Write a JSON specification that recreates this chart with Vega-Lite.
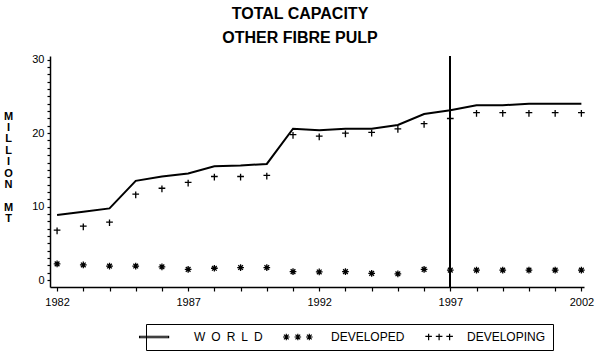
{
  "$schema": "https://vega.github.io/schema/vega-lite/v6.json",
  "width": 534,
  "height": 231,
  "autosize": "none",
  "padding": {"left": 50, "top": 56, "right": 15, "bottom": 66},
  "background": "white",
  "config": {"view": {"stroke": null}, "font": "Liberation Sans"},
  "title": {
    "text": ["TOTAL CAPACITY", "OTHER FIBRE PULP"],
    "fontSize": 16,
    "fontWeight": "bold",
    "lineHeight": 24,
    "anchor": "middle",
    "dx": -17,
    "offset": 8,
    "color": "black",
    "font": "Liberation Sans"
  },
  "data": {
    "values": [
      {"year": 1982, "series": "WORLD", "value": 8.85},
      {"year": 1983, "series": "WORLD", "value": 9.3},
      {"year": 1984, "series": "WORLD", "value": 9.75},
      {"year": 1985, "series": "WORLD", "value": 13.5},
      {"year": 1986, "series": "WORLD", "value": 14.1},
      {"year": 1987, "series": "WORLD", "value": 14.5},
      {"year": 1988, "series": "WORLD", "value": 15.5},
      {"year": 1989, "series": "WORLD", "value": 15.6},
      {"year": 1990, "series": "WORLD", "value": 15.8},
      {"year": 1991, "series": "WORLD", "value": 20.6},
      {"year": 1992, "series": "WORLD", "value": 20.4},
      {"year": 1993, "series": "WORLD", "value": 20.6},
      {"year": 1994, "series": "WORLD", "value": 20.6},
      {"year": 1995, "series": "WORLD", "value": 21.1},
      {"year": 1996, "series": "WORLD", "value": 22.6},
      {"year": 1997, "series": "WORLD", "value": 23.1},
      {"year": 1998, "series": "WORLD", "value": 23.8},
      {"year": 1999, "series": "WORLD", "value": 23.8},
      {"year": 2000, "series": "WORLD", "value": 24.0},
      {"year": 2001, "series": "WORLD", "value": 24.0},
      {"year": 2002, "series": "WORLD", "value": 24.0},
      {"year": 1982, "series": "DEVELOPING", "value": 6.7},
      {"year": 1983, "series": "DEVELOPING", "value": 7.25},
      {"year": 1984, "series": "DEVELOPING", "value": 7.8},
      {"year": 1985, "series": "DEVELOPING", "value": 11.6},
      {"year": 1986, "series": "DEVELOPING", "value": 12.4},
      {"year": 1987, "series": "DEVELOPING", "value": 13.2},
      {"year": 1988, "series": "DEVELOPING", "value": 14.0},
      {"year": 1989, "series": "DEVELOPING", "value": 14.0},
      {"year": 1990, "series": "DEVELOPING", "value": 14.15},
      {"year": 1991, "series": "DEVELOPING", "value": 19.7},
      {"year": 1992, "series": "DEVELOPING", "value": 19.5},
      {"year": 1993, "series": "DEVELOPING", "value": 19.9},
      {"year": 1994, "series": "DEVELOPING", "value": 20.0},
      {"year": 1995, "series": "DEVELOPING", "value": 20.5},
      {"year": 1996, "series": "DEVELOPING", "value": 21.2},
      {"year": 1997, "series": "DEVELOPING", "value": 21.9},
      {"year": 1998, "series": "DEVELOPING", "value": 22.7},
      {"year": 1999, "series": "DEVELOPING", "value": 22.7},
      {"year": 2000, "series": "DEVELOPING", "value": 22.7},
      {"year": 2001, "series": "DEVELOPING", "value": 22.7},
      {"year": 2002, "series": "DEVELOPING", "value": 22.7},
      {"year": 1982, "series": "DEVELOPED", "value": 2.2},
      {"year": 1983, "series": "DEVELOPED", "value": 2.05},
      {"year": 1984, "series": "DEVELOPED", "value": 1.9},
      {"year": 1985, "series": "DEVELOPED", "value": 1.9},
      {"year": 1986, "series": "DEVELOPED", "value": 1.8},
      {"year": 1987, "series": "DEVELOPED", "value": 1.45},
      {"year": 1988, "series": "DEVELOPED", "value": 1.6},
      {"year": 1989, "series": "DEVELOPED", "value": 1.7},
      {"year": 1990, "series": "DEVELOPED", "value": 1.7},
      {"year": 1991, "series": "DEVELOPED", "value": 1.15},
      {"year": 1992, "series": "DEVELOPED", "value": 1.1},
      {"year": 1993, "series": "DEVELOPED", "value": 1.15},
      {"year": 1994, "series": "DEVELOPED", "value": 0.9},
      {"year": 1995, "series": "DEVELOPED", "value": 0.85},
      {"year": 1996, "series": "DEVELOPED", "value": 1.45},
      {"year": 1997, "series": "DEVELOPED", "value": 1.35},
      {"year": 1998, "series": "DEVELOPED", "value": 1.35},
      {"year": 1999, "series": "DEVELOPED", "value": 1.35},
      {"year": 2000, "series": "DEVELOPED", "value": 1.35},
      {"year": 2001, "series": "DEVELOPED", "value": 1.35},
      {"year": 2002, "series": "DEVELOPED", "value": 1.35}
    ]
  },
  "resolve": {"axis": {"x": "independent", "y": "independent"}},
  "layer": [
    {
      "transform": [{"filter": "datum.series === 'WORLD'"}],
      "mark": {"type": "line", "color": "black", "strokeWidth": 2},
      "encoding": {
        "x": {
          "field": "year",
          "type": "quantitative",
          "scale": {"domain": [1981.73, 2002.1], "nice": false, "zero": false},
          "axis": {
            "title": null,
            "values": [1982, 1983, 1984, 1985, 1986, 1987, 1988, 1989, 1990, 1991, 1992, 1993, 1994, 1995, 1996, 1997, 1998, 1999, 2000, 2001, 2002],
            "format": "d",
            "labelExpr": "(datum.value - 1982) % 5 === 0 ? datum.label : ''",
            "labelOverlap": false,
            "labelFlush": false,
            "tickSize": 4,
            "tickWidth": 1.2,
            "tickColor": "black",
            "domainColor": "black",
            "domainWidth": 1.5,
            "labelColor": "black",
            "labelFontSize": 11,
            "labelPadding": 5,
            "grid": false
          }
        },
        "y": {
          "field": "value",
          "type": "quantitative",
          "scale": {"domain": [-0.95, 30.5], "nice": false, "zero": false},
          "axis": {
            "title": ["M", "I", "L", "L", "I", "O", "N", "\u200b", "M", "T"],
            "titleAngle": 0,
            "titleX": -42,
            "titleY": 60,
            "titleAlign": "center",
            "titleBaseline": "middle",
            "titleLineHeight": 11.4,
            "titleFontSize": 11,
            "titleFontWeight": "bold",
            "titleColor": "black",
            "values": [0,1,2,3,4,5,6,7,8,9,10,11,12,13,14,15,16,17,18,19,20,21,22,23,24,25,26,27,28,29,30],
            "labelExpr": "datum.value % 10 === 0 ? datum.label : ''",
            "labelOverlap": false,
            "tickSize": 3,
            "tickWidth": 1.2,
            "tickColor": "black",
            "domainColor": "black",
            "domainWidth": 1.5,
            "labelColor": "black",
            "labelFontSize": 11,
            "labelPadding": 3,
            "grid": false
          }
        }
      }
    },
    {
      "transform": [{"filter": "datum.series === 'DEVELOPED'"}],
      "mark": {"type": "point", "shape": "M-1,0L1,0M0,-1L0,1M-0.7,-0.7L0.7,0.7M-0.7,0.7L0.7,-0.7", "filled": false, "stroke": "black", "strokeWidth": 1.3, "size": 45, "opacity": 1},
      "encoding": {
        "x": {"field": "year", "type": "quantitative", "axis": null},
        "y": {"field": "value", "type": "quantitative", "axis": null}
      }
    },
    {
      "transform": [{"filter": "datum.series === 'DEVELOPING'"}],
      "mark": {"type": "point", "shape": "M-1,-0.2L1,-0.2M0,-1L0,1", "filled": false, "stroke": "black", "strokeWidth": 1.3, "size": 45, "opacity": 1},
      "encoding": {
        "x": {"field": "year", "type": "quantitative", "axis": null},
        "y": {"field": "value", "type": "quantitative", "axis": null}
      }
    },
    {
      "transform": [{"filter": "false"}],
      "mark": {"type": "point", "filled": false, "stroke": "black", "strokeWidth": 1.2, "opacity": 1},
      "encoding": {
        "shape": {
          "field": "series",
          "type": "nominal",
          "scale": {
            "domain": ["WORLD", "DEVELOPED", "DEVELOPING"],
            "range": [
              "M-6.47,-0.25L3.2,-0.25L3.2,0.25L-6.47,0.25Z",
              "M-4.33,0L-2.13,0M-3.23,-1.1L-3.23,1.1M-4.01,-0.78L-2.45,0.78M-4.01,0.78L-2.45,-0.78M-0.49,0L1.71,0M0.61,-1.1L0.61,1.1M-0.17,-0.78L1.39,0.78M-0.17,0.78L1.39,-0.78M3.34,0L5.54,0M4.44,-1.1L4.44,1.1M3.66,-0.78L5.22,0.78M3.66,0.78L5.22,-0.78",
              "M-2.23,-0.2L-0.03,-0.2M-1.13,-1.1L-1.13,1.1M1.27,-0.2L3.47,-0.2M2.37,-1.1L2.37,1.1M4.77,-0.2L6.97,-0.2M5.87,-1.1L5.87,1.1"
            ]
          },
          "legend": {
            "orient": "none",
            "legendX": 96,
            "legendY": 268,
            "direction": "horizontal",
            "title": null,
            "strokeColor": "black",
            "padding": 7,
            "symbolSize": 36,
            "symbolStrokeColor": "black",
            "symbolFillColor": "transparent",
            "symbolStrokeWidth": 1.2,
            "labelFontSize": 12,
            "labelColor": "black",
            "labelOffset": 29,
            "columnPadding": 17,
            "labelExpr": "datum.value === 'WORLD' ? '\u2002\u00a0W\u2002O\u2002R\u2002L\u2002D' : datum.value === 'DEVELOPING' ? 'DEVELOPING\u2002\u00a0' : datum.label"
          }
        }
      }
    },
    {
      "mark": {"type": "rule", "color": "black", "strokeWidth": 1.2},
      "encoding": {"x": {"datum": 1997, "axis": null}}
    }
  ]
}
